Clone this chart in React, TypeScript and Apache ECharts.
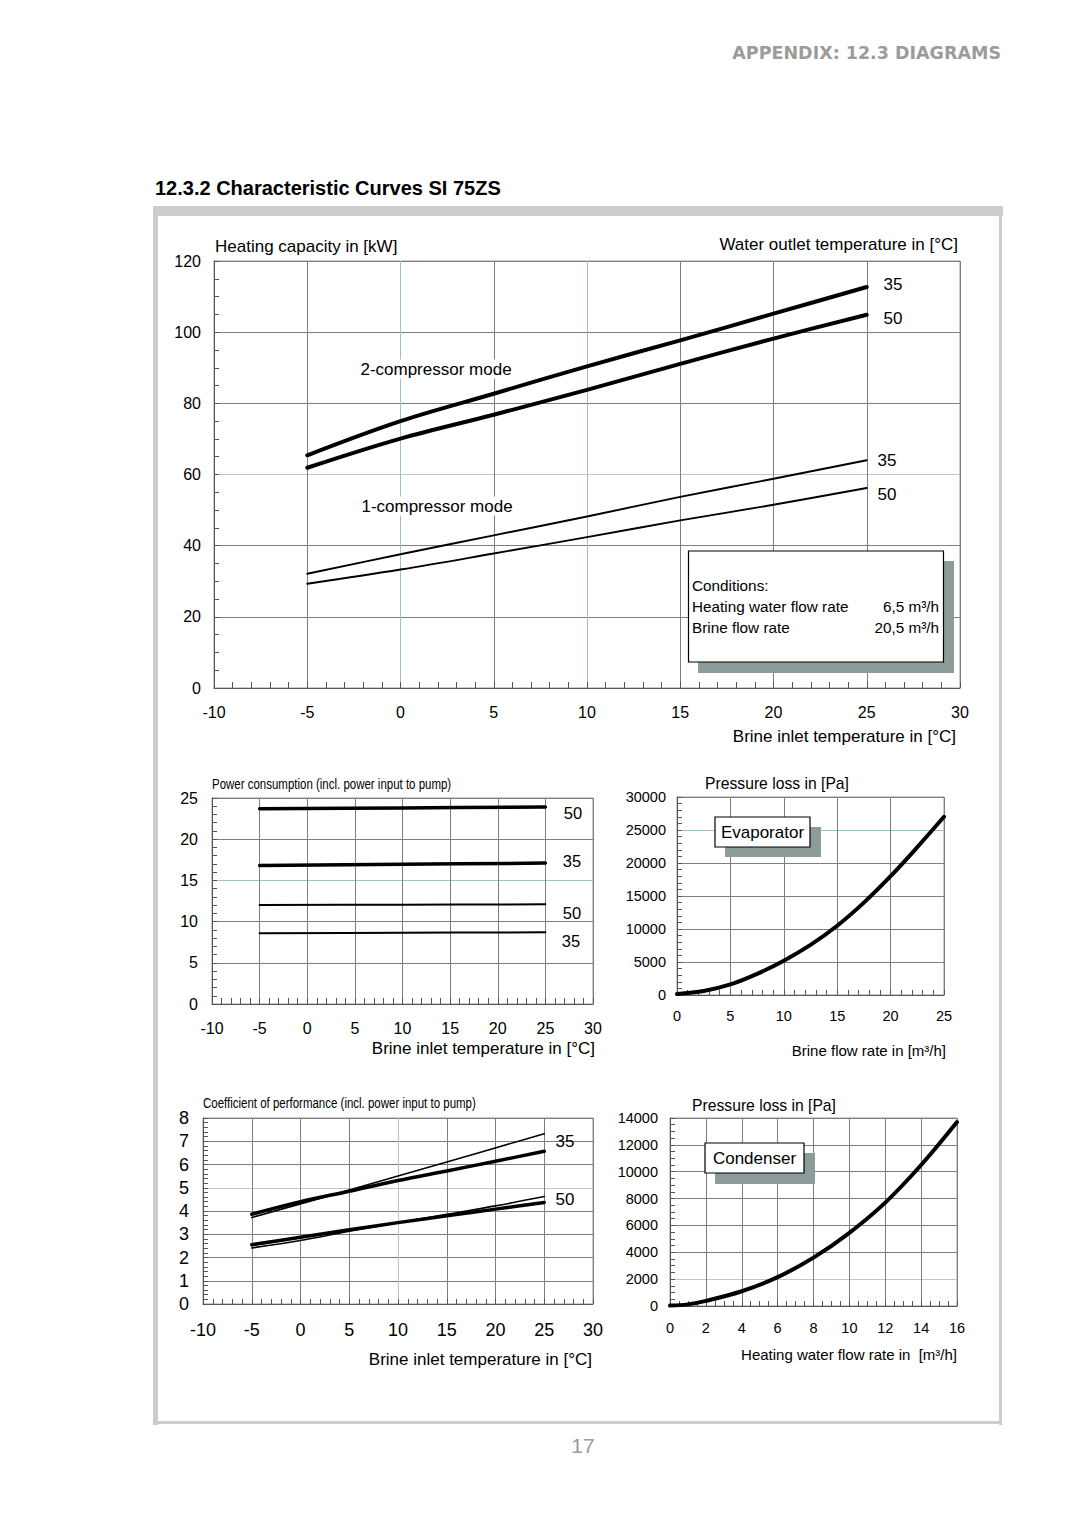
import React, { useEffect, useRef } from "react";
import * as echarts from "echarts";

// ---------- Data ----------
// Chart 1: heating capacity [kW] vs brine inlet temperature [°C]
const capX = [-5, 0, 5, 10, 15, 20, 25];
const cap2c35Y = [65.4, 75.0, 82.7, 90.4, 97.7, 105.2, 112.7];
const cap2c50Y = [61.9, 70.1, 76.8, 83.8, 91.1, 98.2, 104.9];
const cap1c35Y = [32.1, 37.6, 42.9, 48.2, 53.7, 58.8, 64.0];
const cap1c50Y = [29.3, 33.3, 37.8, 42.4, 47.1, 51.5, 56.2];

// Chart 2: power consumption [kW]
const powX = [-5, 10, 25];
const pow2c50Y = [23.7, 23.8, 23.9];
const pow2c35Y = [16.8, 16.95, 17.1];
const pow1c50Y = [12.0, 12.05, 12.1];
const pow1c35Y = [8.6, 8.65, 8.7];

// Chart 3: evaporator pressure loss [Pa] vs brine flow rate [m3/h]
const evapX = [0, 2.5, 5, 7.5, 10, 12.5, 15, 17.5, 20, 22.5, 25];
const evapY = [150, 600, 1600, 3200, 5200, 7600, 10500, 14000, 18000, 22400, 27000];

// Chart 4: COP
const cop35thinX = [-5, 5, 15, 25];
const cop35thinY = [3.72, 4.9, 6.11, 7.32];
const cop35thickY = [3.86, 4.4, 4.85, 5.31, 5.72, 6.14, 6.57];
const cop50thinY = [2.41, 2.73, 3.13, 3.5, 3.86, 4.22, 4.62];
const cop50thickY = [2.55, 2.87, 3.19, 3.5, 3.79, 4.08, 4.37];

// Chart 5: condenser pressure loss [Pa] vs heating water flow rate [m3/h]
const condX = [0, 1, 2, 4, 6, 8, 10, 12, 14, 16];
const condY = [30, 120, 380, 1100, 2150, 3600, 5450, 7700, 10500, 13700];

// ---------- Style helpers ----------
const FONT = "'Liberation Sans', Arial, Helvetica, sans-serif";
const G = "#7f7f7f";
const TEAL = "#9fc3c3";
const LIGHT = "#c4c4c4";

function pairs(xs: number[], ys: number[]) {
  return xs.map((x, i) => [x, ys[i]]);
}

function axis(
  gridIndex: number,
  min: number,
  max: number,
  interval: number,
  minorSplit: number,
  fontSize: number,
  margin: number,
  colors: string | string[],
  tickLen: number
) {
  return {
    type: "value",
    gridIndex,
    min,
    max,
    interval,
    axisLine: { show: true, onZero: false, lineStyle: { color: "#555", width: 1 } },
    axisTick: { show: true, inside: true, length: tickLen, lineStyle: { color: "#555" } },
    minorTick: { show: true, splitNumber: minorSplit, length: tickLen, lineStyle: { color: "#555" } },
    splitLine: { show: true, lineStyle: { color: colors, width: 1 } },
    minorSplitLine: { show: false },
    axisLabel: {
      fontSize,
      color: "#000",
      fontFamily: FONT,
      margin,
      formatter: (v: number) => String(v),
    },
  };
}

function line(xs: number[], ys: number[], idx: number, width: number) {
  return {
    type: "line",
    xAxisIndex: idx,
    yAxisIndex: idx,
    data: pairs(xs, ys),
    smooth: 0.35,
    showSymbol: false,
    symbol: "none",
    silent: true,
    z: 5,
    lineStyle: { color: "#000", width, cap: "round", join: "round" },
  };
}

type TO = {
  size?: number;
  bold?: boolean;
  color?: string;
  align?: string;
  scaleX?: number;
  bg?: string;
  pad?: number[];
  family?: string;
};
function txt(text: string, x: number, y: number, o: TO = {}) {
  const style: any = {
    text,
    fontSize: o.size ?? 17,
    fontFamily: o.family ?? FONT,
    fontWeight: o.bold ? "bold" : "normal",
    fill: o.color ?? "#000",
    align: o.align ?? "left",
    verticalAlign: "middle",
  };
  if (o.bg) {
    style.backgroundColor = o.bg;
    style.padding = o.pad ?? [0, 2];
  }
  return { type: "text", x, y, z: 30, silent: true, scaleX: o.scaleX ?? 1, style };
}

function rect(x: number, y: number, w: number, h: number, fill: string, stroke?: string, z = 25) {
  return {
    type: "rect",
    z,
    silent: true,
    shape: { x, y, width: w, height: h },
    style: { fill, stroke: stroke ?? "none", lineWidth: stroke ? 1.2 : 0 },
  };
}

const SHADOW = "#8c9c9a";

const grids = [
  { left: 214, top: 261, width: 746, height: 427 },
  { left: 212, top: 798, width: 381, height: 206 },
  { left: 677, top: 797, width: 267, height: 198 },
  { left: 203, top: 1118, width: 390, height: 186 },
  { left: 670, top: 1118, width: 287, height: 188 },
].map((g) => ({
  ...g,
  show: true,
  borderColor: "#999",
  borderWidth: 1,
  backgroundColor: "transparent",
  containLabel: false,
  outerBoundsMode: "none",
}));

const option: any = {
  animation: false,
  backgroundColor: "#fff",
  grid: grids,
  xAxis: [
    axis(0, -10, 30, 5, 5, 16, 16, [G, G, TEAL, G, TEAL, G, G, G, G], 6),
    axis(1, -10, 30, 5, 5, 16, 16, G, 6),
    axis(2, 0, 25, 5, 5, 14.5, 13, [G, G, G, G, G, G], 5),
    axis(3, -10, 30, 5, 5, 18, 17, [G, G, G, G, LIGHT, G, G, G, G], 5),
    axis(4, 0, 16, 2, 4, 14.5, 14, G, 5),
  ],
  yAxis: [
    axis(0, 0, 120, 20, 4, 16, 13, [G, G, G, LIGHT, G, G, G], 5),
    axis(1, 0, 25, 5, 5, 16, 14, [G, G, G, TEAL, G, G], 5),
    axis(2, 0, 30000, 5000, 5, 14.5, 11, [G, G, G, G, G, TEAL, G], 5),
    axis(3, 0, 8, 1, 5, 18, 14, [G, G, G, G, G, LIGHT, G, G, G], 5),
    axis(4, 0, 14000, 2000, 4, 14.5, 12, [G, LIGHT, G, G, G, G, G, G], 5),
  ],
  series: [
    line(capX, cap2c35Y, 0, 4),
    line(capX, cap2c50Y, 0, 4),
    line(capX, cap1c35Y, 0, 1.9),
    line(capX, cap1c50Y, 0, 1.9),
    line(powX, pow2c50Y, 1, 3.5),
    line(powX, pow2c35Y, 1, 3.5),
    line(powX, pow1c50Y, 1, 2),
    line(powX, pow1c35Y, 1, 2),
    line(evapX, evapY, 2, 4),
    line(cop35thinX, cop35thinY, 3, 1.6),
    line(capX, cop35thickY, 3, 3.5),
    line(capX, cop50thinY, 3, 1.6),
    line(capX, cop50thickY, 3, 3.5),
    line(condX, condY, 4, 4),
  ],
  graphic: [
    // page frame
    rect(153, 206, 850, 10, "#cccccc", undefined, 1),
    rect(153, 206, 5, 1219, "#cccccc", undefined, 1),
    rect(999, 206, 3, 1219, "#cccccc", undefined, 1),
    rect(153, 1421, 849, 3, "#cccccc", undefined, 1),

    // header, title, page number
    txt("APPENDIX: 12.3 DIAGRAMS", 1001, 53, {
      size: 17.5,
      bold: true,
      color: "#9b9b9b",
      align: "right",
      family: "'DejaVu Sans', 'Liberation Sans', sans-serif",
    }),
    txt("12.3.2 Characteristic Curves SI 75ZS", 155, 188, { size: 20, bold: true }),
    txt("17", 583, 1445, { size: 21, color: "#9b9b9b", align: "center" }),

    // chart 1 texts
    txt("Heating capacity in [kW]", 215, 246),
    txt("Water outlet temperature in [°C]", 958, 244, { align: "right" }),
    txt("Brine inlet temperature in [°C]", 956, 736, { align: "right" }),
    txt("2-compressor mode", 436, 369, { align: "center", bg: "#fff", pad: [1, 1] }),
    txt("1-compressor mode", 437, 506, { align: "center", bg: "#fff", pad: [1, 1] }),
    txt("35", 893, 284, { align: "center" }),
    txt("50", 893, 318, { align: "center", bg: "#fff", pad: [1, 6] }),
    txt("35", 887, 460, { align: "center" }),
    txt("50", 887, 494, { align: "center" }),

    // conditions box
    rect(698, 561, 256, 112, SHADOW),
    rect(688.5, 551, 255, 111, "#fff", "#000", 26),
    txt("Conditions:", 692, 585, { size: 15.3 }),
    txt("Heating water flow rate", 692, 606, { size: 15.3 }),
    txt("Brine flow rate", 692, 627, { size: 15.3 }),
    txt("6,5 m³/h", 939, 606, { size: 15.3, align: "right" }),
    txt("20,5 m³/h", 939, 627, { size: 15.3, align: "right" }),

    // chart 2 texts
    txt("Power consumption (incl. power input to pump)", 212, 784, { size: 14, scaleX: 0.82 }),
    txt("Brine inlet temperature in [°C]", 595, 1048, { align: "right" }),
    txt("50", 573, 813, { size: 16.5, align: "center" }),
    txt("35", 572, 861, { size: 16.5, align: "center" }),
    txt("50", 572, 913, { size: 16.5, align: "center" }),
    txt("35", 571, 941, { size: 16.5, align: "center" }),

    // chart 3 texts
    txt("Pressure loss in [Pa]", 777, 783, { size: 15.7, align: "center" }),
    txt("Brine flow rate in [m³/h]", 946, 1050, { size: 15, align: "right" }),
    rect(725, 827, 96, 30, SHADOW),
    rect(715, 817, 95, 30, "#fff", "#000", 26),
    txt("Evaporator", 762.5, 832, { align: "center" }),

    // chart 4 texts
    txt("Coefficient of performance (incl. power input to pump)", 203, 1103, { size: 14, scaleX: 0.82 }),
    txt("Brine inlet temperature in [°C]", 592, 1359, { align: "right" }),
    txt("35", 565, 1141, { align: "center" }),
    txt("50", 565, 1199, { align: "center" }),

    // chart 5 texts
    txt("Pressure loss in [Pa]", 764, 1105, { size: 15.7, align: "center" }),
    txt("Heating water flow rate in  [m³/h]", 957, 1354, { size: 15, align: "right" }),
    rect(715, 1153, 100, 31, SHADOW),
    rect(705, 1143, 99, 30, "#fff", "#000", 26),
    txt("Condenser", 754.5, 1158, { align: "center" }),
  ],
};

export default function App() {
  const ref = useRef<HTMLDivElement>(null);
  useEffect(() => {
    const chart = echarts.init(ref.current as HTMLDivElement, null, {
      renderer: "svg",
      width: 1080,
      height: 1528,
    });
    chart.setOption(option);
    return () => chart.dispose();
  }, []);
  return (
    <div
      ref={ref}
      style={{ position: "absolute", left: 0, top: 0, width: 1080, height: 1528, background: "#fff" }}
    />
  );
}
